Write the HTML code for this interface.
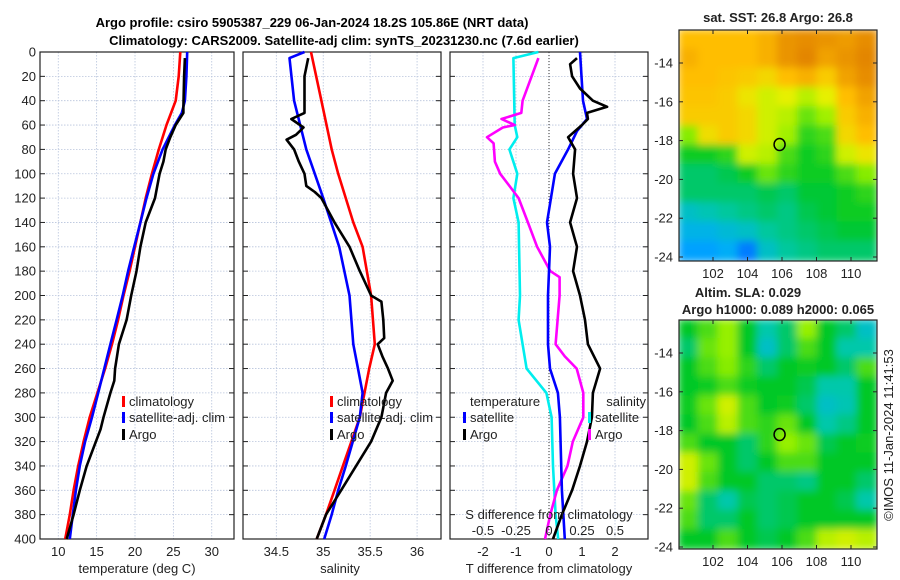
<!DOCTYPE html>
<html><head><meta charset="utf-8">
<style>
html,body{margin:0;padding:0;background:#fff;}
svg{display:block;font-family:"Liberation Sans","DejaVu Sans",sans-serif;}
</style></head>
<body>
<svg id="chart" width="900" height="580" viewBox="0 0 900 580" xmlns="http://www.w3.org/2000/svg">
<defs>
<filter id="blur" x="-5%" y="-5%" width="110%" height="110%"><feGaussianBlur stdDeviation="4"/></filter>
<clipPath id="clipM1"><rect x="679" y="30" width="198" height="231"/></clipPath>
<clipPath id="clipM2"><rect x="679" y="320" width="198" height="229"/></clipPath>
</defs>
<text x="312" y="27" font-size="13" font-weight="bold" text-anchor="middle">Argo profile: csiro 5905387_229 06-Jan-2024 18.2S 105.86E (NRT data)</text>
<text x="344" y="45" font-size="13" font-weight="bold" text-anchor="middle">Climatology: CARS2009. Satellite-adj clim: synTS_20231230.nc (7.6d earlier)</text>
<g id="g"></g>
</svg>
<script>
// ---------- data ----------
const tempClimDepth = [0,20,40,60,80,100,120,140,160,180,200,220,240,260,280,300,320,340,360,380,400];
const tempClim = [25.9,25.7,25.3,24.1,23.1,22.2,21.4,20.7,20.0,19.3,18.5,17.8,17.0,16.1,15.1,14.1,13.3,12.6,12.0,11.5,10.9];
const tempSatDepth = [0,20,40,50,60,80,100,120,140,160,180,200,220,240,260,280,300,320,340,360,380,400];
const tempSat = [26.8,26.7,26.5,26.1,25.2,23.6,22.4,21.5,20.7,19.9,19.1,18.4,17.6,16.8,16.0,15.2,14.4,13.5,12.8,12.3,11.9,11.5];
const tempArgoDepth = [5,20,45,50,55,60,70,80,90,100,110,120,140,160,180,200,220,240,260,270,280,300,310,320,340,360,380,400];
const tempArgo = [26.5,26.4,26.3,26.3,25.8,25.3,24.6,24.0,23.7,23.2,22.9,22.6,21.4,20.7,20.2,19.5,18.9,17.9,17.4,17.3,16.8,15.9,15.5,14.9,13.7,12.8,12.0,11.1];

const salClimDepth = [0,40,80,100,140,160,200,240,260,280,300,320,340,360,380,400];
const salClim = [34.87,34.98,35.09,35.16,35.32,35.42,35.51,35.55,35.49,35.44,35.39,35.30,35.21,35.12,35.03,34.93];
const salSatDepth = [0,5,40,80,100,120,160,200,240,260,280,300,340,360,380,400];
const salSat = [34.80,34.64,34.69,34.82,34.91,35.00,35.17,35.28,35.32,35.37,35.42,35.39,35.24,35.16,35.09,35.01];
const salArgoDepth = [5,20,50,55,62,68,72,80,90,100,110,115,120,140,160,180,200,205,220,235,240,250,260,270,280,300,320,340,360,380,400];
const salArgo = [34.84,34.80,34.80,34.66,34.79,34.71,34.61,34.69,34.74,34.80,34.82,34.91,34.98,35.12,35.28,35.39,35.51,35.62,35.64,35.65,35.58,35.63,35.69,35.74,35.67,35.62,35.51,35.35,35.19,35.03,34.93];

const dTSatDepth = [0,40,55,65,80,100,140,160,200,240,260,280,300,360,400];
const dTSat = [0.94,1.03,1.15,0.85,0.58,0.18,-0.06,0.03,-0.03,-0.03,0.03,0.27,0.33,0.39,0.48];
const dTArgoDepth = [5,10,20,30,40,45,50,55,60,70,80,100,120,140,160,180,200,220,240,260,280,300,320,340,360,380,400];
const dTArgo = [0.85,0.64,0.70,0.94,1.33,1.76,1.15,1.18,1.0,0.58,0.79,0.73,0.85,0.64,0.85,0.73,0.94,1.09,1.18,1.55,1.33,1.30,1.15,0.94,0.70,0.39,0.12];
const dSSatDepth = [0,5,60,70,80,100,120,140,200,220,260,280,300,340,380,400];
const dSSat = [-0.08,-0.27,-0.26,-0.24,-0.30,-0.24,-0.27,-0.23,-0.22,-0.23,-0.17,-0.02,0.02,0.03,0.05,0.07];
const dSArgoDepth = [5,40,50,55,60,62,70,75,90,100,110,120,140,160,180,185,200,240,250,260,280,300,320,340,360,380,400];
const dSArgo = [-0.08,-0.20,-0.21,-0.36,-0.26,-0.35,-0.47,-0.42,-0.41,-0.37,-0.30,-0.23,-0.16,-0.09,0.01,0.08,0.08,0.05,0.12,0.21,0.26,0.26,0.18,0.14,0.06,0.01,-0.03];

const depthTicks = [0,20,40,60,80,100,120,140,160,180,200,220,240,260,280,300,320,340,360,380,400];
const tempTicks = [10,15,20,25,30];
const salTicks = [34.5,35,35.5,36];
const dTTicks = [-2,-1,0,1,2];
const dSTickLabels = ["-0.5","-0.25","0","0.25","0.5"];
const dSTicks = [-0.5,-0.25,0,0.25,0.5];

const lonTicks = [102,104,106,108,110];
const latTicks = [-14,-16,-18,-20,-22,-24];
const sstGrid = [
[.80,.80,.80,.80,.82,.86,.87,.86,.85,.87],
[.82,.80,.80,.80,.82,.86,.88,.84,.86,.88],
[.80,.80,.79,.78,.76,.80,.82,.78,.84,.87],
[.79,.79,.78,.74,.70,.72,.68,.72,.80,.84],
[.78,.78,.78,.76,.70,.68,.62,.66,.78,.82],
[.64,.75,.78,.76,.70,.66,.58,.60,.76,.80],
[.56,.56,.58,.70,.68,.60,.56,.58,.70,.74],
[.50,.50,.52,.56,.62,.58,.56,.56,.60,.64],
[.50,.50,.50,.50,.52,.50,.54,.54,.56,.58],
[.42,.44,.46,.48,.50,.48,.52,.54,.56,.56],
[.38,.38,.40,.42,.46,.48,.50,.52,.54,.54],
[.34,.34,.36,.30,.42,.46,.48,.50,.50,.50]];
const slaGrid = [
[.55,.60,.65,.55,.45,.50,.65,.55,.50,.42],
[.50,.62,.65,.55,.42,.50,.60,.55,.45,.45],
[.55,.60,.64,.58,.50,.55,.56,.55,.50,.60],
[.55,.56,.60,.56,.55,.55,.52,.45,.45,.55],
[.56,.62,.70,.60,.55,.56,.50,.42,.44,.55],
[.55,.60,.68,.60,.58,.62,.55,.45,.48,.55],
[.60,.55,.55,.50,.58,.65,.62,.52,.55,.56],
[.70,.62,.55,.50,.55,.60,.60,.55,.55,.55],
[.70,.60,.55,.55,.50,.50,.48,.55,.55,.50],
[.62,.50,.45,.52,.50,.52,.55,.55,.52,.45],
[.60,.50,.50,.55,.50,.52,.55,.55,.55,.55],
[.55,.55,.60,.55,.52,.55,.60,.68,.70,.68]];

// ---------- helpers ----------
const NS="http://www.w3.org/2000/svg";
const root=document.getElementById('g');
function mk(tag,attrs,parent){const e=document.createElementNS(NS,tag);for(const k in attrs)e.setAttribute(k,attrs[k]);(parent||root).appendChild(e);return e;}
const Y0=52,Y1=539;
function yD(d){return Y0+(d/400)*(Y1-Y0);}

function panel(x0,x1,xmin,xmax,name){
  const sx=v=>x0+(v-xmin)/(xmax-xmin)*(x1-x0);
  return {x0,x1,sx,name};
}
const P1=panel(40,234,7.62,32.9,'temperature');
const P2=panel(243,441,34.145,36.255,'salinity');
const P3=panel(450,648,-3,3,'t-difference');
const sxS=v=>P3.sx(v*4);

function gridAndFrame(P,xt,showYLabels){
  const grp=mk('g',{});
  
  
  depthTicks.forEach(d=>{
    const l=mk('line',{x1:P.x0,x2:P.x1,y1:yD(d),y2:yD(d),stroke:'#b8c4dc','stroke-width':0.8,'stroke-dasharray':'1.5,1.5'},grp);
    
    
    mk('line',{x1:P.x0,x2:P.x0+5,y1:yD(d),y2:yD(d),stroke:'#222'},grp);
    mk('line',{x1:P.x1-5,x2:P.x1,y1:yD(d),y2:yD(d),stroke:'#222'},grp);
    if(showYLabels){
      const t=mk('text',{x:P.x0-4,y:yD(d)+4.5,'font-size':13,'text-anchor':'end',fill:'#222'},grp);
      t.textContent=d;
      
      
    }
  });
  xt.forEach(v=>{
    const x=P.sx(v);
    const l=mk('line',{x1:x,x2:x,y1:Y0,y2:Y1,stroke:'#b8c4dc','stroke-width':0.8,'stroke-dasharray':'1.5,1.5'},grp);
    
    
    const t=mk('text',{x:x,y:556,'font-size':13,'text-anchor':'middle',fill:'#222'},grp);
    t.textContent=v;
    
    
  });
  const r=mk('rect',{x:P.x0,y:Y0,width:P.x1-P.x0,height:Y1-Y0,fill:'none',stroke:'#222','stroke-width':1.2},grp);
  
  
}
function series(depths,vals,sx,color,name){
  let d='';
  depths.forEach((dep,i)=>{d+=(i?'L':'M')+sx(vals[i]).toFixed(1)+','+yD(dep).toFixed(1);});
  const p=mk('path',{d:d,fill:'none',stroke:color,'stroke-width':2.6,'stroke-linejoin':'round'});
  
  
}
function label(x,y,txt,name,anchor,size,weight){
  const t=mk('text',{x:x,y:y,'font-size':size||13,'text-anchor':anchor||'start',fill:'#222','font-weight':weight||'normal'});
  t.textContent=txt;
  
  
  return t;
}
function legend(x,y,color,txt,name,anchor){
  const b=mk('rect',{x:x,y:y-10,width:3,height:11,fill:color});
  
  
  label(x+7,y,txt,name,anchor);
}

// Panel 1
gridAndFrame(P1,tempTicks,true);
series(tempClimDepth,tempClim,P1.sx,'#ff0000','temp-climatology-line');
series(tempSatDepth,tempSat,P1.sx,'#0000ff','temp-satellite-line');
series(tempArgoDepth,tempArgo,P1.sx,'#000000','temp-argo-line');
label(137,573,'temperature (deg C)','temperature-axis-title','middle');
legend(122,406,'#ff0000','climatology','legend-climatology');
legend(122,422,'#0000ff','satellite-adj. clim','legend-satellite-adj');
legend(122,439,'#000000','Argo','legend-argo');

// Panel 2
gridAndFrame(P2,salTicks,false);
series(salClimDepth,salClim,P2.sx,'#ff0000','sal-climatology-line');
series(salSatDepth,salSat,P2.sx,'#0000ff','sal-satellite-line');
series(salArgoDepth,salArgo,P2.sx,'#000000','sal-argo-line');
label(340,573,'salinity','salinity-axis-title','middle');
legend(330,406,'#ff0000','climatology','legend-climatology-2');
legend(330,422,'#0000ff','satellite-adj. clim','legend-satellite-adj-2');
legend(330,439,'#000000','Argo','legend-argo-2');

// Panel 3
gridAndFrame(P3,dTTicks,false);
const zl=mk('line',{x1:P3.sx(0),x2:P3.sx(0),y1:Y0,y2:Y1,stroke:'#333','stroke-width':1,'stroke-dasharray':'1,2'});


series(dSSatDepth,dSSat,sxS,'#00eeee','s-diff-satellite-line');
series(dSArgoDepth,dSArgo,sxS,'#ff00ff','s-diff-argo-line');
series(dTSatDepth,dTSat,P3.sx,'#0000ff','t-diff-satellite-line');
series(dTArgoDepth,dTArgo,P3.sx,'#000000','t-diff-argo-line');
label(470,406,'temperature','legend-temperature-header');
legend(463,422,'#0000ff','satellite','legend-t-satellite');
legend(463,439,'#000000','Argo','legend-t-argo');
label(646,406,'salinity','legend-salinity-header','end');
legend(588,422,'#00eeee','satellite','legend-s-satellite');
legend(588,439,'#ff00ff','Argo','legend-s-argo');
label(549,519,'S difference from climatology','s-diff-axis-title','middle');
dSTicks.forEach((v,i)=>label(sxS(v),535,dSTickLabels[i],'s-diff-tick-label','middle'));
label(549,573,'T difference from climatology','t-diff-axis-title','middle');

// Maps
function cmap(v){
  const stops=[[0.25,[0,80,255]],[0.35,[0,170,255]],[0.45,[0,200,170]],[0.55,[0,200,40]],[0.65,[150,240,0]],[0.72,[230,240,0]],[0.8,[255,190,0]],[0.9,[220,120,0]]];
  if(v<=stops[0][0])return 'rgb('+stops[0][1]+')';
  for(let i=1;i<stops.length;i++){
    if(v<=stops[i][0]){const a=stops[i-1],b=stops[i];const t=(v-a[0])/(b[0]-a[0]);
      return 'rgb('+a[1].map((c,j)=>Math.round(c+(b[1][j]-c)*t)).join(',')+')';}
  }
  return 'rgb('+stops[stops.length-1][1]+')';
}
function drawMap(grid,x0,y0,w,h,clip,name,latY){
  const outer=mk('g',{});
  
  
  const cg=mk('g',{'clip-path':'url(#'+clip+')'},outer);
  const bg=mk('g',{filter:'url(#blur)'},cg);
  const rows=grid.length,cols=grid[0].length;
  const cw=w/cols,ch=h/rows;
  grid.forEach((row,r)=>row.forEach((v,c)=>{
    const cell=mk('rect',{x:(x0+c*cw-1).toFixed(1),y:(y0+r*ch-1).toFixed(1),width:(cw+2).toFixed(1),height:(ch+2).toFixed(1),fill:cmap(v)},bg);
    
    
  }));
  const lonX=lon=>713+(lon-102)*17.25;
  const latYf=lat=>latY+(-14-lat)*19.4;
  mk('rect',{x:x0,y:y0,width:w,height:h,fill:'none',stroke:'#222','stroke-width':1.2},outer);
  lonTicks.forEach(l=>{
    const x=lonX(l);
    mk('line',{x1:x,x2:x,y1:y0+h,y2:y0+h-4,stroke:'#222'},outer);
    mk('line',{x1:x,x2:x,y1:y0,y2:y0+4,stroke:'#222'},outer);
    label(x,y0+h+17,l,'lon-tick-label','middle');
  });
  latTicks.forEach(l=>{
    const y=latYf(l);
    mk('line',{x1:x0,x2:x0+4,y1:y,y2:y,stroke:'#222'},outer);
    mk('line',{x1:x0+w,x2:x0+w-4,y1:y,y2:y,stroke:'#222'},outer);
    label(x0-6,y+4.5,l,'lat-tick-label','end');
  });
  const m=mk('ellipse',{cx:lonX(105.86),cy:latYf(-18.2),rx:5.5,ry:6,fill:'none',stroke:'#000','stroke-width':1.5},outer);
  
  
}
drawMap(sstGrid,679,30,198,231,'clipM1','sst-map',63);
drawMap(slaGrid,679,320,198,229,'clipM2','sla-map',353);
label(778,22,'sat. SST: 26.8 Argo: 26.8','sst-map-title','middle',13,'bold');
label(748,297,'Altim. SLA: 0.029','sla-map-title','middle',13,'bold');
label(778,314,'Argo h1000: 0.089 h2000: 0.065','sla-map-subtitle','middle',13,'bold');
const cr=label(0,0,'©IMOS 11-Jan-2024 11:41:53','copyright-timestamp','middle');
cr.setAttribute('transform','translate(893,435) rotate(-90)');
</script>
</body></html>
